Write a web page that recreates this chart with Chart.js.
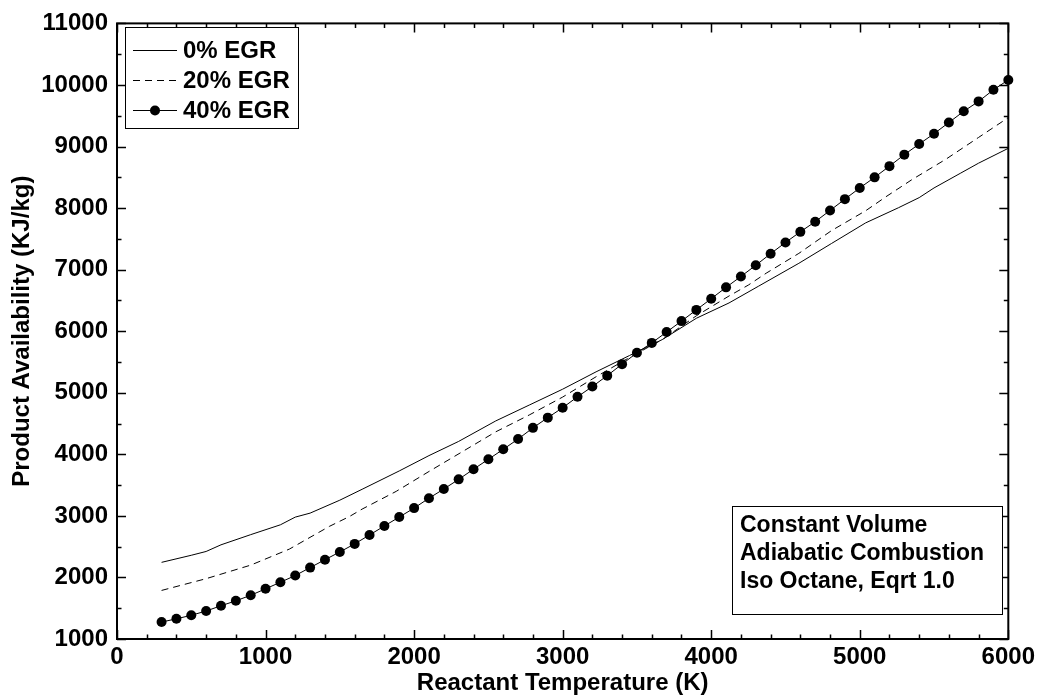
<!DOCTYPE html>
<html>
<head>
<meta charset="utf-8">
<script src="https://cdn.jsdelivr.net/npm/chart.js@4"></script>
<style>
  html, body { margin: 0; padding: 0; background: #fff; }
  #wrap { width: 1039px; height: 700px; }
</style>
</head>
<body>
<div id="wrap"><canvas id="c" width="1039" height="700" style="width:1039px;height:700px"></canvas></div>
<script>
// ---- data ----
const seriesLabels = ["0% EGR", "20% EGR", "40% EGR"];

const egr0T = [300, 500, 600, 700, 900, 1100, 1200, 1300, 1500, 1650, 1900, 2100, 2300, 2550, 2775, 3000, 3225, 3450, 3670, 3900, 4120, 4320, 4590, 4810, 5040, 5260, 5400, 5500, 5680, 5800, 6000];
const egr0V = [2245, 2360, 2422, 2530, 2695, 2855, 2980, 3045, 3255, 3432, 3730, 3979, 4210, 4543, 4800, 5058, 5340, 5605, 5863, 6210, 6459, 6733, 7103, 7425, 7760, 8005, 8170, 8327, 8569, 8730, 8971];

const egr20T = [300, 600, 900, 1160, 1430, 1565, 1650, 1880, 2100, 2325, 2550, 2775, 3000, 3225, 3450, 3670, 3900, 4120, 4250, 4370, 4590, 4810, 5040, 5175, 5350, 5580, 5800, 6000];
const egr20V = [1789, 1980, 2200, 2460, 2830, 2990, 3110, 3399, 3721, 4043, 4366, 4639, 4930, 5260, 5573, 5863, 6250, 6572, 6749, 6942, 7264, 7634, 7957, 8182, 8460, 8794, 9148, 9470];

const egr40T = [300, 400, 500, 600, 700, 800, 900, 1000, 1100, 1200, 1300, 1400, 1500, 1600, 1700, 1800, 1900, 2000, 2100, 2200, 2300, 2400, 2500, 2600, 2700, 2800, 2900, 3000, 3100, 3200, 3300, 3400, 3500, 3600, 3700, 3800, 3900, 4000, 4100, 4200, 4300, 4400, 4500, 4600, 4700, 4800, 4900, 5000, 5100, 5200, 5300, 5400, 5500, 5600, 5700, 5800, 5900, 6000];
const egr40V = [1275, 1328, 1385, 1455, 1540, 1620, 1710, 1815, 1922, 2031, 2160, 2288, 2414, 2545, 2690, 2836, 2981, 3126, 3287, 3436, 3593, 3758, 3919, 4081, 4248, 4430, 4596, 4757, 4934, 5101, 5278, 5465, 5649, 5810, 5987, 6164, 6346, 6528, 6712, 6889, 7071, 7259, 7441, 7614, 7779, 7961, 8145, 8327, 8499, 8681, 8868, 9040, 9208, 9390, 9572, 9733, 9921, 10082];

const xMin = 0, xMax = 6000, xMajor = 1000, xMinor = 200;
const yMin = 1000, yMax = 11000, yMajor = 1000, yMinor = 500;

const annotationLines = ["Constant Volume", "Adiabatic Combustion", "Iso Octane, Eqrt 1.0"];
const xTitle = "Reactant Temperature (K)";
const yTitle = "Product Availability (KJ/kg)";

// ---- chart ----
const FONT = "'Liberation Sans', Arial, Helvetica, sans-serif";
const pts = (t, v) => t.map((x, i) => ({ x: x, y: v[i] }));

const axesBoxPlugin = {
  id: 'axesBox',
  afterDraw(chart) {
    const ctx = chart.ctx, a = chart.chartArea;
    const xs = chart.scales.x, ys = chart.scales.y;
    ctx.save();
    ctx.strokeStyle = '#000';
    // inward ticks
    ctx.lineWidth = 1.5;
    ctx.beginPath();
    for (let v = xMin; v <= xMax; v += xMinor) {
      const px = Math.round(xs.getPixelForValue(v)) + 0.5;
      const len = (v % xMajor === 0) ? 9 : 4.5;
      ctx.moveTo(px, a.bottom); ctx.lineTo(px, a.bottom - len);
      ctx.moveTo(px, a.top); ctx.lineTo(px, a.top + len);
    }
    for (let v = yMin; v <= yMax; v += yMinor) {
      const py = Math.round(ys.getPixelForValue(v)) + 0.5;
      const len = (v % yMajor === 0) ? 9 : 4.5;
      ctx.moveTo(a.left, py); ctx.lineTo(a.left + len, py);
      ctx.moveTo(a.right, py); ctx.lineTo(a.right - len, py);
    }
    ctx.stroke();
    // frame
    ctx.lineWidth = 2;
    ctx.strokeRect(a.left, a.top, a.right - a.left, a.bottom - a.top);

    // legend (MATLAB style, from datasets)
    const lx = 125, ly = 27, lw = 173, lh = 101;
    ctx.fillStyle = '#fff';
    ctx.fillRect(lx, ly, lw, lh);
    ctx.lineWidth = 1;
    ctx.strokeRect(lx + 0.5, ly + 0.5, lw, lh);
    ctx.font = "bold 24px " + FONT;
    ctx.textBaseline = 'middle';
    ctx.textAlign = 'left';
    chart.data.datasets.forEach((ds, i) => {
      const y = 50 + i * 30;
      ctx.save();
      ctx.strokeStyle = ds.borderColor;
      ctx.lineWidth = ds.borderWidth;
      ctx.setLineDash(ds.borderDash || []);
      ctx.beginPath();
      ctx.moveTo(133, y + 0.5); ctx.lineTo(177, y + 0.5);
      ctx.stroke();
      ctx.restore();
      if (ds.pointRadius > 0) {
        ctx.beginPath();
        ctx.fillStyle = ds.pointBackgroundColor;
        ctx.arc(155, y + 0.5, ds.pointRadius, 0, Math.PI * 2);
        ctx.fill();
      }
      ctx.fillStyle = '#000';
      ctx.fillText(ds.label, 183, y + 1);
    });

    // annotation box
    const bx = 732, by = 506, bw = 270, bh = 108;
    ctx.fillStyle = '#fff';
    ctx.fillRect(bx, by, bw, bh);
    ctx.strokeStyle = '#000';
    ctx.lineWidth = 1;
    ctx.strokeRect(bx + 0.5, by + 0.5, bw, bh);
    ctx.fillStyle = '#000';
    ctx.font = "bold 23px " + FONT;
    annotationLines.forEach((t, i) => ctx.fillText(t, 740, 526 + i * 28));
    ctx.restore();
  }
};

new Chart(document.getElementById('c'), {
  type: 'line',
  data: {
    datasets: [
      { label: seriesLabels[0], data: pts(egr0T, egr0V), borderColor: '#000', borderWidth: 1, pointRadius: 0, clip: false },
      { label: seriesLabels[1], data: pts(egr20T, egr20V), borderColor: '#000', borderWidth: 1, borderDash: [7, 5], pointRadius: 0, clip: false },
      { label: seriesLabels[2], data: pts(egr40T, egr40V), borderColor: '#000', borderWidth: 1, pointRadius: 5, pointBackgroundColor: '#000', pointBorderColor: '#000', pointBorderWidth: 0, clip: false }
    ]
  },
  options: {
    responsive: false,
    animation: false,
    events: [],
    layout: { padding: { left: 0, right: 27, top: 17, bottom: 0 } },
    plugins: { legend: { display: false }, tooltip: { enabled: false } },
    elements: { line: { tension: 0 } },
    scales: {
      x: {
        type: 'linear', min: xMin, max: xMax,
        grid: { display: false, drawTicks: false },
        border: { display: false },
        ticks: { stepSize: xMajor, padding: 4, color: '#000', font: { family: FONT, size: 24, weight: 'bold' }, maxRotation: 0, callback: v => String(v) },
        title: { display: true, text: xTitle, color: '#000', font: { family: FONT, size: 24, weight: 'bold' }, padding: { top: 0, bottom: 2 } },
        afterFit(s) { s.height = 61; }
      },
      y: {
        type: 'linear', min: yMin, max: yMax,
        grid: { display: false, drawTicks: false },
        border: { display: false },
        ticks: { stepSize: yMajor, padding: 9, color: '#000', font: { family: FONT, size: 24, weight: 'bold' }, callback: v => String(v) },
        title: { display: true, text: yTitle, color: '#000', font: { family: FONT, size: 24, weight: 'bold' }, padding: { top: 8, bottom: 0 } },
        afterFit(s) { s.width = 117; }
      }
    }
  },
  plugins: [axesBoxPlugin]
});
</script>
</body>
</html>
